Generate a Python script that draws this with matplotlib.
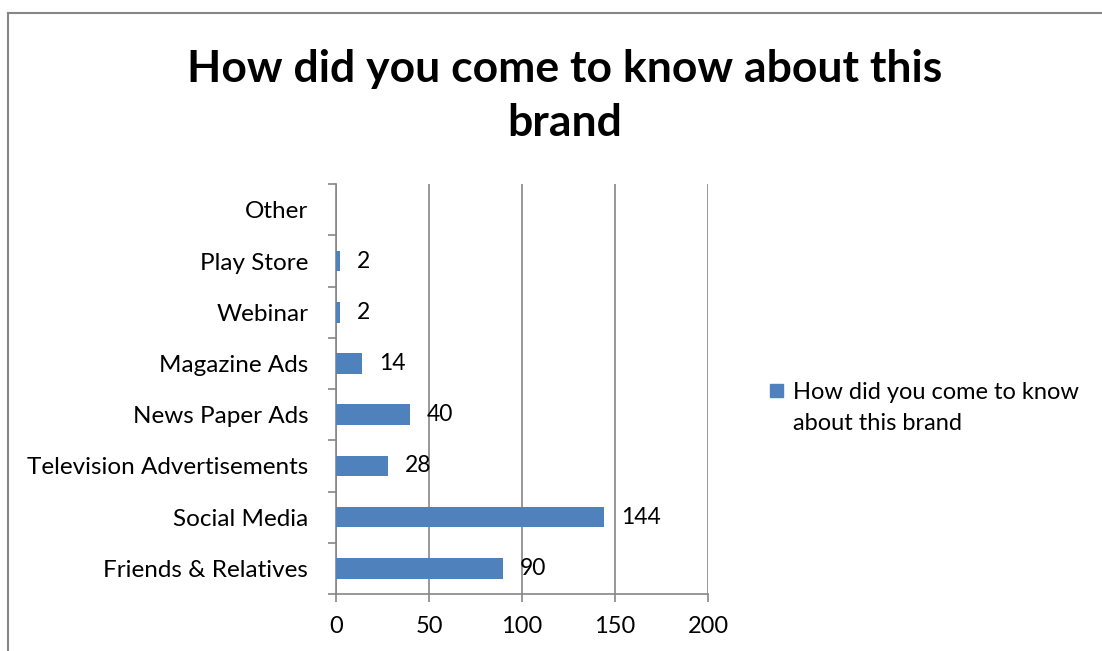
import numpy as np
import matplotlib.pyplot as plt
from matplotlib.lines import Line2D
from matplotlib.patches import Rectangle

plt.rcParams['font.family'] = ['Lato', 'DejaVu Sans']

# Survey responses
categories = ["Friends & Relatives", "Social Media", "Television Advertisements",
              "News Paper Ads", "Magazine Ads", "Webinar", "Play Store", "Other"]
counts = [90, 144, 28, 40, 14, 2, 2, 0]
series_name = "How did you come to know\nabout this brand"
title = "How did you come to know about this\nbrand"

bar_color = "#4F81BD"
axis_color = "#868686"

W, H = 1102, 651
fig = plt.figure(figsize=(W / 100, H / 100), dpi=100)
ax = fig.add_axes([0.305, 0.0876, 0.3375, 0.6294])

y = np.arange(len(categories))
bars = ax.barh(y, counts, height=0.4, color=bar_color, zorder=3)

# value labels next to each bar (empty category left blank)
for yi, v in zip(y, counts):
    if v > 0:
        ax.text(v + 9, yi, str(v), va="center", ha="left", fontsize=16.5, zorder=4)

ax.set_xlim(0, 200)
ax.set_ylim(-0.5, len(categories) - 0.5)
ax.set_xticks([0, 50, 100, 150, 200])
ax.set_yticks(y)
ax.set_yticklabels(categories)
ax.set_yticks(np.arange(-0.5, len(categories), 1), minor=True)

ax.tick_params(axis="y", which="major", length=0, pad=20, labelsize=17.5)
ax.tick_params(axis="y", which="minor", length=6, color=axis_color, width=1.2)
ax.tick_params(axis="x", which="major", length=6, color=axis_color, width=1.2,
               labelsize=17, pad=10)

ax.grid(axis="x", color=axis_color, linewidth=1.2, zorder=0)
for side in ["top", "right"]:
    ax.spines[side].set_visible(False)
for side in ["left", "bottom"]:
    ax.spines[side].set_color(axis_color)
    ax.spines[side].set_linewidth(1.2)

fig.text(0.512, 0.852, title, ha="center", va="center", fontsize=32,
         fontweight="bold", linespacing=1.42)

# legend: square key aligned with the first line of the series name
fig.add_artist(Rectangle((770 / W, 1 - 397 / H), 13 / W, 13 / H,
                         transform=fig.transFigure, color=bar_color))
fig.text(793 / W, 1 - 408 / H, series_name, ha="left", va="center",
         fontsize=17, linespacing=1.55)

# chart frame
fig.add_artist(Line2D([8 / W, 1.0], [1 - 13 / H, 1 - 13 / H],
                      transform=fig.transFigure, color=axis_color, linewidth=1.5))
fig.add_artist(Line2D([8 / W, 8 / W], [0.0, 1 - 13 / H],
                      transform=fig.transFigure, color=axis_color, linewidth=1.5))

fig.savefig("out.png", dpi=100)
